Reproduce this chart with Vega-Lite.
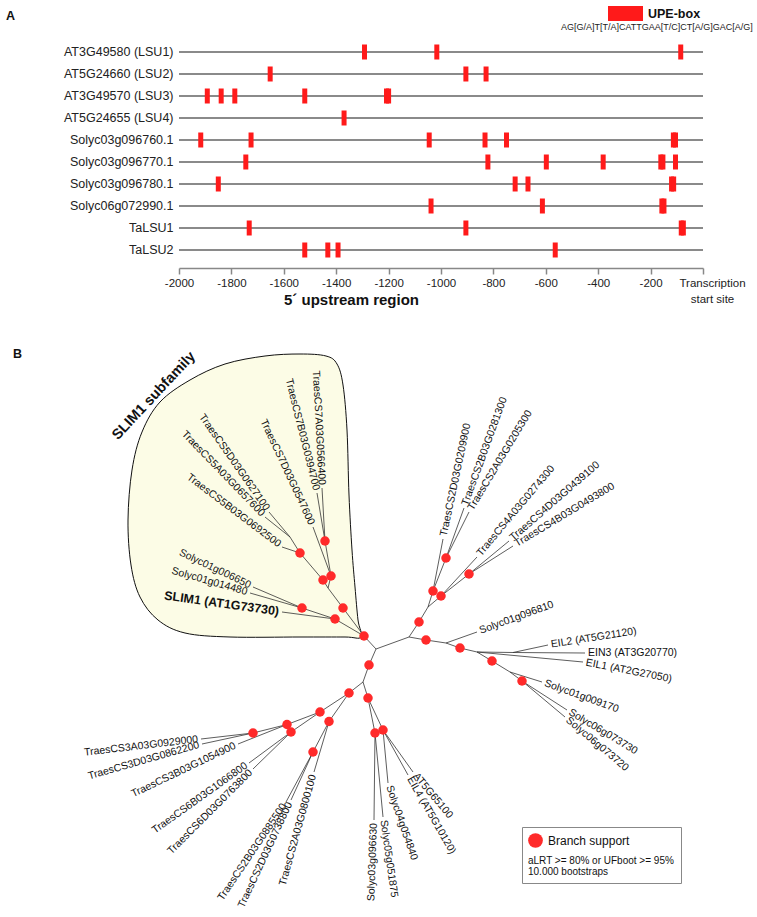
{
  "$schema": "https://vega.github.io/schema/vega-lite/v6.json",
  "padding": {"left": 6, "top": 6, "right": 5, "bottom": 5},
  "config": {"font": "Liberation Sans", "view": {"stroke": null}},
  "spacing": 99,
  "bounds": "flush",
  "datasets": {
    "genes": [
      {"gene": "AT3G49580 (LSU1)"}, {"gene": "AT5G24660 (LSU2)"}, {"gene": "AT3G49570 (LSU3)"},
      {"gene": "AT5G24655 (LSU4)"}, {"gene": "Solyc03g096760.1"}, {"gene": "Solyc03g096770.1"},
      {"gene": "Solyc03g096780.1"}, {"gene": "Solyc06g072990.1"}, {"gene": "TaLSU1"}, {"gene": "TaLSU2"}
    ],
    "boxes": [
      {"gene": "AT3G49580 (LSU1)", "pos": -1292, "motif": "UPE-box"},
      {"gene": "AT3G49580 (LSU1)", "pos": -1016, "motif": "UPE-box"},
      {"gene": "AT3G49580 (LSU1)", "pos": -85, "motif": "UPE-box"},
      {"gene": "AT5G24660 (LSU2)", "pos": -1652, "motif": "UPE-box"},
      {"gene": "AT5G24660 (LSU2)", "pos": -905, "motif": "UPE-box"},
      {"gene": "AT5G24660 (LSU2)", "pos": -828, "motif": "UPE-box"},
      {"gene": "AT3G49570 (LSU3)", "pos": -1892, "motif": "UPE-box"},
      {"gene": "AT3G49570 (LSU3)", "pos": -1839, "motif": "UPE-box"},
      {"gene": "AT3G49570 (LSU3)", "pos": -1787, "motif": "UPE-box"},
      {"gene": "AT3G49570 (LSU3)", "pos": -1520, "motif": "UPE-box"},
      {"gene": "AT3G49570 (LSU3)", "pos": -1208, "motif": "UPE-box"},
      {"gene": "AT3G49570 (LSU3)", "pos": -1200, "motif": "UPE-box"},
      {"gene": "AT5G24655 (LSU4)", "pos": -1370, "motif": "UPE-box"},
      {"gene": "Solyc03g096760.1", "pos": -1917, "motif": "UPE-box"},
      {"gene": "Solyc03g096760.1", "pos": -1725, "motif": "UPE-box"},
      {"gene": "Solyc03g096760.1", "pos": -1045, "motif": "UPE-box"},
      {"gene": "Solyc03g096760.1", "pos": -832, "motif": "UPE-box"},
      {"gene": "Solyc03g096760.1", "pos": -750, "motif": "UPE-box"},
      {"gene": "Solyc03g096760.1", "pos": -113, "motif": "UPE-box"},
      {"gene": "Solyc03g096760.1", "pos": -105, "motif": "UPE-box"},
      {"gene": "Solyc03g096770.1", "pos": -1745, "motif": "UPE-box"},
      {"gene": "Solyc03g096770.1", "pos": -821, "motif": "UPE-box"},
      {"gene": "Solyc03g096770.1", "pos": -598, "motif": "UPE-box"},
      {"gene": "Solyc03g096770.1", "pos": -381, "motif": "UPE-box"},
      {"gene": "Solyc03g096770.1", "pos": -161, "motif": "UPE-box"},
      {"gene": "Solyc03g096770.1", "pos": -153, "motif": "UPE-box"},
      {"gene": "Solyc03g096770.1", "pos": -105, "motif": "UPE-box"},
      {"gene": "Solyc03g096780.1", "pos": -1850, "motif": "UPE-box"},
      {"gene": "Solyc03g096780.1", "pos": -717, "motif": "UPE-box"},
      {"gene": "Solyc03g096780.1", "pos": -668, "motif": "UPE-box"},
      {"gene": "Solyc03g096780.1", "pos": -120, "motif": "UPE-box"},
      {"gene": "Solyc03g096780.1", "pos": -112, "motif": "UPE-box"},
      {"gene": "Solyc06g072990.1", "pos": -1038, "motif": "UPE-box"},
      {"gene": "Solyc06g072990.1", "pos": -613, "motif": "UPE-box"},
      {"gene": "Solyc06g072990.1", "pos": -157, "motif": "UPE-box"},
      {"gene": "Solyc06g072990.1", "pos": -149, "motif": "UPE-box"},
      {"gene": "TaLSU1", "pos": -1732, "motif": "UPE-box"},
      {"gene": "TaLSU1", "pos": -905, "motif": "UPE-box"},
      {"gene": "TaLSU1", "pos": -83, "motif": "UPE-box"},
      {"gene": "TaLSU1", "pos": -75, "motif": "UPE-box"},
      {"gene": "TaLSU2", "pos": -1520, "motif": "UPE-box"},
      {"gene": "TaLSU2", "pos": -1432, "motif": "UPE-box"},
      {"gene": "TaLSU2", "pos": -1393, "motif": "UPE-box"},
      {"gene": "TaLSU2", "pos": -564, "motif": "UPE-box"}
    ],
    "outline": [
      {"i": 1, "x": 361, "y": 637}, {"i": 2, "x": 358, "y": 620}, {"i": 3, "x": 355, "y": 587},
      {"i": 4, "x": 352, "y": 550}, {"i": 5, "x": 349, "y": 495}, {"i": 6, "x": 347, "y": 430},
      {"i": 7, "x": 343, "y": 385}, {"i": 8, "x": 337, "y": 364}, {"i": 9, "x": 326, "y": 356},
      {"i": 10, "x": 300, "y": 354}, {"i": 11, "x": 265, "y": 356}, {"i": 12, "x": 225, "y": 364},
      {"i": 13, "x": 190, "y": 380}, {"i": 14, "x": 160, "y": 402}, {"i": 15, "x": 142, "y": 432},
      {"i": 16, "x": 132, "y": 470}, {"i": 17, "x": 128, "y": 520}, {"i": 18, "x": 131, "y": 565},
      {"i": 19, "x": 140, "y": 597}, {"i": 20, "x": 158, "y": 620}, {"i": 21, "x": 185, "y": 633},
      {"i": 22, "x": 230, "y": 637}, {"i": 23, "x": 300, "y": 637}, {"i": 24, "x": 345, "y": 637}
    ],
    "edges": [
      {"x": 364, "y": 636, "x2": 376, "y2": 649}, {"x": 376, "y": 649, "x2": 409, "y2": 637},
      {"x": 376, "y": 649, "x2": 369, "y2": 665}, {"x": 369, "y": 665, "x2": 363, "y2": 682},
      {"x": 409, "y": 637, "x2": 419, "y2": 622}, {"x": 409, "y": 637, "x2": 426, "y2": 640},
      {"x": 419, "y": 622, "x2": 428, "y2": 607}, {"x": 428, "y": 607, "x2": 433, "y2": 591},
      {"x": 428, "y": 607, "x2": 441, "y2": 596}, {"x": 433, "y": 591, "x2": 443, "y2": 539},
      {"x": 433, "y": 591, "x2": 446, "y2": 558}, {"x": 446, "y": 558, "x2": 464, "y2": 508},
      {"x": 446, "y": 558, "x2": 469, "y2": 512}, {"x": 441, "y": 596, "x2": 477, "y2": 557},
      {"x": 441, "y": 596, "x2": 469, "y2": 574}, {"x": 469, "y": 574, "x2": 509, "y2": 541},
      {"x": 469, "y": 574, "x2": 513, "y2": 546},
      {"x": 426, "y": 640, "x2": 446, "y2": 643}, {"x": 446, "y": 643, "x2": 477, "y2": 632},
      {"x": 446, "y": 643, "x2": 460, "y2": 648}, {"x": 460, "y": 648, "x2": 477, "y2": 652},
      {"x": 477, "y": 652, "x2": 513, "y2": 652.5}, {"x": 513, "y": 652.5, "x2": 585, "y2": 653},
      {"x": 513, "y": 652.5, "x2": 548, "y2": 645}, {"x": 477, "y": 652, "x2": 583, "y2": 662},
      {"x": 477, "y": 652, "x2": 492, "y2": 661}, {"x": 492, "y": 661, "x2": 510, "y2": 672},
      {"x": 510, "y": 672, "x2": 542, "y2": 682}, {"x": 510, "y": 672, "x2": 522, "y2": 681},
      {"x": 522, "y": 681, "x2": 567, "y2": 710}, {"x": 522, "y": 681, "x2": 565, "y2": 717},
      {"x": 364, "y": 636, "x2": 343, "y2": 608}, {"x": 343, "y": 608, "x2": 328, "y2": 588},
      {"x": 328, "y": 588, "x2": 331, "y2": 576}, {"x": 328, "y": 588, "x2": 323, "y2": 580},
      {"x": 331, "y": 576, "x2": 325, "y2": 541}, {"x": 325, "y": 541, "x2": 322, "y2": 488},
      {"x": 325, "y": 541, "x2": 317, "y2": 493}, {"x": 331, "y": 576, "x2": 313, "y2": 527},
      {"x": 323, "y": 580, "x2": 300, "y2": 553}, {"x": 300, "y": 553, "x2": 282, "y2": 547},
      {"x": 300, "y": 553, "x2": 290, "y2": 537}, {"x": 290, "y": 537, "x2": 269, "y2": 512},
      {"x": 290, "y": 537, "x2": 265, "y2": 517},
      {"x": 364, "y": 636, "x2": 335, "y2": 619}, {"x": 335, "y": 619, "x2": 282, "y2": 612},
      {"x": 335, "y": 619, "x2": 302, "y2": 608}, {"x": 302, "y": 608, "x2": 253, "y2": 587},
      {"x": 302, "y": 608, "x2": 250, "y2": 593},
      {"x": 363, "y": 682, "x2": 349, "y2": 693}, {"x": 363, "y": 682, "x2": 368, "y2": 698},
      {"x": 349, "y": 693, "x2": 320, "y2": 712}, {"x": 349, "y": 693, "x2": 329, "y2": 721.5},
      {"x": 320, "y": 712, "x2": 287, "y2": 724.5}, {"x": 320, "y": 712, "x2": 291, "y2": 732},
      {"x": 287, "y": 724.5, "x2": 253, "y2": 733}, {"x": 253, "y": 733, "x2": 201, "y2": 739},
      {"x": 253, "y": 733, "x2": 202, "y2": 744}, {"x": 287, "y": 724.5, "x2": 238, "y2": 744},
      {"x": 291, "y": 732, "x2": 249, "y2": 763}, {"x": 291, "y": 732, "x2": 253, "y2": 769},
      {"x": 329, "y": 721.5, "x2": 313, "y2": 752}, {"x": 313, "y": 752, "x2": 286, "y2": 802},
      {"x": 313, "y": 752, "x2": 291, "y2": 800}, {"x": 329, "y": 721.5, "x2": 314, "y2": 772},
      {"x": 368, "y": 698, "x2": 375, "y2": 733}, {"x": 368, "y": 698, "x2": 383, "y2": 730},
      {"x": 375, "y": 733, "x2": 374, "y2": 820}, {"x": 375, "y": 733, "x2": 383, "y2": 817},
      {"x": 383, "y": 730, "x2": 388, "y2": 783}, {"x": 383, "y": 730, "x2": 408, "y2": 775},
      {"x": 383, "y": 730, "x2": 413, "y2": 772}
    ],
    "nodes": [
      {"x": 364, "y": 636}, {"x": 343, "y": 608}, {"x": 331, "y": 576}, {"x": 323, "y": 580},
      {"x": 325, "y": 541}, {"x": 300, "y": 553}, {"x": 335, "y": 619}, {"x": 302, "y": 608},
      {"x": 419, "y": 622}, {"x": 426, "y": 640}, {"x": 369, "y": 665}, {"x": 349, "y": 693},
      {"x": 320, "y": 712}, {"x": 368, "y": 698}, {"x": 287, "y": 724.5}, {"x": 291, "y": 732},
      {"x": 253, "y": 733}, {"x": 329, "y": 721.5}, {"x": 313, "y": 752}, {"x": 375, "y": 733},
      {"x": 383, "y": 730}, {"x": 433, "y": 591}, {"x": 441, "y": 596}, {"x": 469, "y": 574},
      {"x": 446, "y": 558}, {"x": 460, "y": 648}, {"x": 492, "y": 661}, {"x": 522, "y": 681}
    ],
    "labels": [
      {"name": "TraesCS2D03G0209900", "x": 443, "y": 539, "angle": -78, "side": "r"},
      {"name": "TraesCS2B03G0281300", "x": 464, "y": 508, "angle": -70, "side": "r"},
      {"name": "TraesCS2A03G0205300", "x": 469, "y": 512, "angle": -59, "side": "r"},
      {"name": "TraesCS4A03G0274300", "x": 477, "y": 557, "angle": -50, "side": "r"},
      {"name": "TraesCS4D03G0439100", "x": 509, "y": 541, "angle": -41, "side": "r"},
      {"name": "TraesCS4B03G0493800", "x": 513, "y": 546, "angle": -31, "side": "r"},
      {"name": "Solyc01g096810", "x": 477, "y": 632, "angle": -20, "side": "r"},
      {"name": "EIL2 (AT5G21120)", "x": 548, "y": 645, "angle": -9, "side": "r"},
      {"name": "EIN3 (AT3G20770)", "x": 585, "y": 653, "angle": 0, "side": "r"},
      {"name": "EIL1 (AT2G27050)", "x": 583, "y": 662, "angle": 11, "side": "r"},
      {"name": "Solyc01g009170", "x": 542, "y": 682, "angle": 20, "side": "r"},
      {"name": "Solyc06g073730", "x": 567, "y": 710, "angle": 31, "side": "r"},
      {"name": "Solyc06g073720", "x": 565, "y": 717, "angle": 40, "side": "r"},
      {"name": "AT5G65100", "x": 413, "y": 772, "angle": 50, "side": "r"},
      {"name": "EIL4 (AT5G10120)", "x": 408, "y": 775, "angle": 60, "side": "r"},
      {"name": "Solyc04g054840", "x": 388, "y": 783, "angle": 71, "side": "r"},
      {"name": "Solyc05g051875", "x": 383, "y": 817, "angle": 82, "side": "r"},
      {"name": "Solyc03g096630", "x": 374, "y": 820, "angle": -88, "side": "l"},
      {"name": "TraesCS2A03G0800100", "x": 314, "y": 772, "angle": -74.5, "side": "l"},
      {"name": "TraesCS2D03G0738800", "x": 291, "y": 800, "angle": -65, "side": "l"},
      {"name": "TraesCS2B03G0885500", "x": 286, "y": 802, "angle": -56, "side": "l"},
      {"name": "TraesCS6D03G0763800", "x": 253, "y": 769, "angle": -45, "side": "l"},
      {"name": "TraesCS6B03G1066800", "x": 249, "y": 763, "angle": -35.5, "side": "l"},
      {"name": "TraesCS3B03G1054900", "x": 238, "y": 744, "angle": -25.5, "side": "l"},
      {"name": "TraesCS3D03G0862200", "x": 202, "y": 744, "angle": -16, "side": "l"},
      {"name": "TraesCS3A03G0929000", "x": 201, "y": 739, "angle": -6.7, "side": "l"},
      {"name": "SLIM1 (AT1G73730)", "x": 282, "y": 612, "angle": 8, "side": "b"},
      {"name": "Solyc01g014480", "x": 250, "y": 593, "angle": 16, "side": "l"},
      {"name": "Solyc01g006650", "x": 253, "y": 587, "angle": 25.5, "side": "l"},
      {"name": "TraesCS5B03G0692500", "x": 282, "y": 547, "angle": 37, "side": "l"},
      {"name": "TraesCS5A03G0657600", "x": 265, "y": 517, "angle": 46, "side": "l"},
      {"name": "TraesCS5D03G0627100", "x": 269, "y": 512, "angle": 55, "side": "l"},
      {"name": "TraesCS7D03G0547600", "x": 313, "y": 527, "angle": 65, "side": "l"},
      {"name": "TraesCS7B03G0394700", "x": 317, "y": 493, "angle": 76, "side": "l"},
      {"name": "TraesCS7A03G0566400", "x": 322, "y": 488, "angle": 87, "side": "l"}
    ],
    "annot": [
      {"name": "SLIM1 subfamily", "x": 154, "y": 396, "angle": -47}
    ]
  },
  "vconcat": [
    {
      "width": 524,
      "height": 220,
      "title": {"text": "A", "anchor": "start", "frame": "group", "dx": -173, "fontSize": 12.5, "fontWeight": "bold", "offset": -16, "color": "#111"},
      "encoding": {
        "y": {
          "field": "gene", "type": "nominal",
          "scale": {"domain": ["AT3G49580 (LSU1)", "AT5G24660 (LSU2)", "AT3G49570 (LSU3)", "AT5G24655 (LSU4)", "Solyc03g096760.1", "Solyc03g096770.1", "Solyc03g096780.1", "Solyc06g072990.1", "TaLSU1", "TaLSU2"], "paddingInner": 0, "paddingOuter": 0},
          "axis": {"title": null, "ticks": false, "domain": false, "labelFontSize": 12.5, "labelPadding": 6, "labelColor": "#222"}
        }
      },
      "layer": [
        {
          "data": {"name": "genes"},
          "mark": {"type": "rule", "color": "#8a8a8a", "strokeWidth": 2},
          "encoding": {
            "x": {
              "datum": -2000, "type": "quantitative",
              "scale": {"domain": [-2000, 0], "nice": false, "zero": false},
              "axis": {
                "title": "5´ upstream region", "titleFontSize": 15, "titleFontWeight": "bold", "titleColor": "#111",
                "titleX": 172, "titleY": 24, "titleBaseline": "top",
                "values": [-2000, -1800, -1600, -1400, -1200, -1000, -800, -600, -400, -200, 0],
                "grid": false, "offset": 7, "domainColor": "#888", "domainWidth": 1.5,
                "tickColor": "#888", "tickWidth": 1.5, "tickSize": 6,
                "labelFontSize": 11.5, "labelColor": "#222", "labelPadding": 3,
                "labelExpr": "datum.value == 0 ? ['Transcription', 'start site'] : '' + datum.value",
                "labelOffset": {"condition": {"test": "datum.value == 0", "value": 9}, "value": 0},
                "labelLineHeight": 16, "labelFlush": false, "labelOverlap": false
              }
            },
            "x2": {"datum": 0}
          }
        },
        {
          "data": {"name": "boxes"},
          "mark": {"type": "tick", "thickness": 5, "size": 15, "orient": "vertical", "opacity": 1},
          "encoding": {
            "x": {"field": "pos", "type": "quantitative"},
            "color": {
              "field": "motif", "type": "nominal",
              "scale": {"range": ["#ff1a1a"]},
              "legend": {
                "orient": "none", "legendX": 382, "legendY": -35,
                "title": "AG[G/A]T[T/A]CATTGAA[T/C]CT[A/G]GAC[A/G]", "titleOrient": "bottom", "titleLimit": 400,
                "titleFontSize": 9, "titleFontWeight": "normal", "titleColor": "#222", "titlePadding": 2,
                "symbolType": "M-1,-0.43H1V0.43H-1Z", "symbolSize": 1225, "symbolStrokeWidth": 0, "symbolOpacity": 1,
                "clipHeight": 15, "symbolOffset": 47, "labelOffset": 5,
                "labelFontSize": 12.5, "labelFontWeight": "bold", "labelColor": "#111", "padding": 0
              }
            }
          }
        }
      ]
    },
    {
      "width": 560,
      "height": 550,
      "title": {"text": "B", "anchor": "start", "frame": "group", "dx": -166, "fontSize": 12.5, "fontWeight": "bold", "offset": -12, "color": "#111"},
      "encoding": {
        "x": {"field": "x", "type": "quantitative", "scale": {"domain": [179, 739], "zero": false, "nice": false}, "axis": null},
        "y": {"field": "y", "type": "quantitative", "scale": {"domain": [360, 910], "zero": false, "nice": false, "reverse": true}, "axis": null}
      },
      "layer": [
        {
          "data": {"name": "outline"},
          "mark": {"type": "line", "interpolate": "cardinal-closed", "fill": "#fcfce6", "stroke": "#111", "strokeWidth": 1},
          "encoding": {"order": {"field": "i", "type": "quantitative"}}
        },
        {
          "data": {"name": "edges"},
          "mark": {"type": "rule", "color": "#333", "strokeWidth": 0.8},
          "encoding": {"x2": {"field": "x2"}, "y2": {"field": "y2"}}
        },
        {
          "data": {"name": "labels"},
          "transform": [{"filter": "datum.side == 'r'"}],
          "mark": {"type": "text", "align": "left", "baseline": "middle", "dx": 3, "fontSize": 10.5, "color": "#111"},
          "encoding": {"text": {"field": "name"}, "angle": {"field": "angle", "type": "quantitative", "scale": null}}
        },
        {
          "data": {"name": "labels"},
          "transform": [{"filter": "datum.side == 'l'"}],
          "mark": {"type": "text", "align": "right", "baseline": "middle", "dx": -3, "fontSize": 10.5, "color": "#111"},
          "encoding": {"text": {"field": "name"}, "angle": {"field": "angle", "type": "quantitative", "scale": null}}
        },
        {
          "data": {"name": "labels"},
          "transform": [{"filter": "datum.side == 'b'"}],
          "mark": {"type": "text", "align": "right", "baseline": "middle", "dx": -3, "fontSize": 12.5, "fontWeight": "bold", "color": "#111"},
          "encoding": {"text": {"field": "name"}, "angle": {"field": "angle", "type": "quantitative", "scale": null}}
        },
        {
          "data": {"name": "annot"},
          "mark": {"type": "text", "align": "center", "baseline": "middle", "fontSize": 14.5, "fontWeight": "bold", "color": "#111"},
          "encoding": {"text": {"field": "name"}, "angle": {"field": "angle", "type": "quantitative", "scale": null}}
        },
        {
          "data": {"name": "nodes"},
          "mark": {"type": "point", "filled": true, "size": 90, "opacity": 1, "shape": "circle"},
          "encoding": {
            "color": {
              "datum": "Branch support",
              "scale": {"range": ["#ff2a2a"]},
              "legend": {
                "orient": "none", "legendX": 343, "legendY": 467,
                "title": ["aLRT >= 80% or UFboot >= 95%", "\u00a010.000 bootstraps"], "titleOrient": "bottom",
                "titleFontSize": 10, "titleFontWeight": "normal", "titleLineHeight": 11, "titlePadding": 8, "titleColor": "#111",
                "symbolSize": 216, "symbolType": "circle", "symbolStrokeWidth": 0,
                "labelFontSize": 12, "labelOffset": 5, "labelColor": "#111",
                "padding": 6, "strokeColor": "#888", "fillColor": "white"
              }
            }
          }
        }
      ],
      "resolve": {"scale": {"color": "independent"}}
    }
  ],
  "resolve": {"scale": {"color": "independent"}}
}
